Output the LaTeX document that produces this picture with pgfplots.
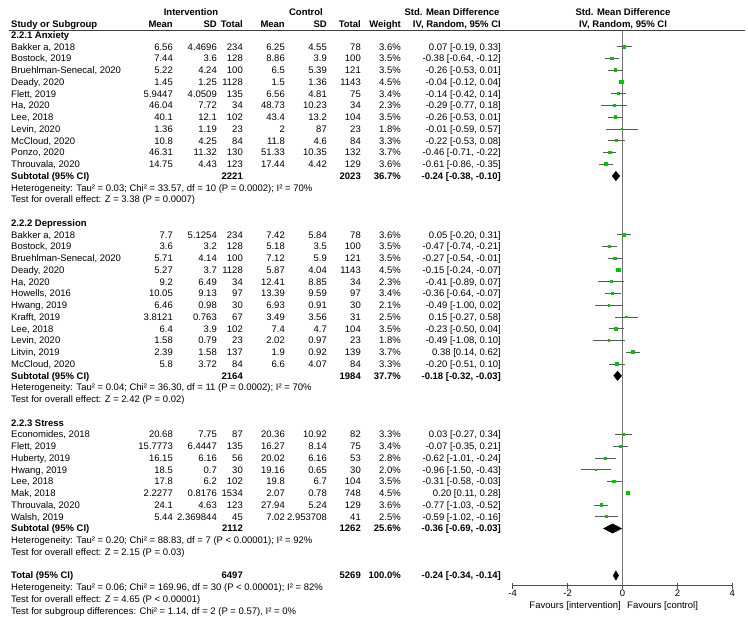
\documentclass[border=0pt]{standalone}
\usepackage{pgfplots}
\pgfplotsset{compat=1.18}
\usepackage{pgfplotstable}
\usepackage{fontspec}
\setmainfont{Liberation Sans}
\definecolor{sq}{RGB}{0,200,0}

% row = line index (0 = "2.2.1 Anxiety"), smd, CI, weight (%)
\pgfplotstableread{
row smd lo hi w
1 0.07 -0.19 0.33 3.6
2 -0.38 -0.64 -0.12 3.5
3 -0.26 -0.53 0.01 3.5
4 -0.04 -0.12 0.04 4.5
5 -0.14 -0.42 0.14 3.4
6 -0.29 -0.77 0.18 2.3
7 -0.26 -0.53 0.01 3.5
8 -0.01 -0.59 0.57 1.8
9 -0.22 -0.53 0.08 3.3
10 -0.46 -0.71 -0.22 3.7
11 -0.61 -0.86 -0.35 3.6
17 0.05 -0.20 0.31 3.6
18 -0.47 -0.74 -0.21 3.5
19 -0.27 -0.54 -0.01 3.5
20 -0.15 -0.24 -0.07 4.5
21 -0.41 -0.89 0.07 2.3
22 -0.36 -0.64 -0.07 3.4
23 -0.49 -1.00 0.02 2.1
24 0.15 -0.27 0.58 2.5
25 -0.23 -0.50 0.04 3.5
26 -0.49 -1.08 0.10 1.8
27 0.38 0.14 0.62 3.7
28 -0.20 -0.51 0.10 3.3
34 0.03 -0.27 0.34 3.3
35 -0.07 -0.35 0.21 3.4
36 -0.62 -1.01 -0.24 2.8
37 -0.96 -1.50 -0.43 2.0
38 -0.31 -0.58 -0.03 3.5
39 0.20 0.11 0.28 4.5
40 -0.77 -1.03 -0.52 3.6
41 -0.59 -1.02 -0.16 2.5
}\studies

\newcommand\ry[1]{35+11.75*(#1)}
\def\cur{0}
\newcommand\R[9]{\def\cur{#1}%
 \node[L] at (11,{\ry{#1}}) {#2};
 \node[Rt] at (173,{\ry{#1}}) {#3};
 \node[Rt] at (217,{\ry{#1}}) {#4};
 \node[Rt] at (243,{\ry{#1}}) {#5};
 \node[Rt] at (285,{\ry{#1}}) {#6};
 \node[Rt] at (327,{\ry{#1}}) {#7};
 \node[Rt] at (361,{\ry{#1}}) {#8};
 \node[Rt] at (401,{\ry{#1}}) {#9};}
\newcommand\C[1]{\node[Rt] at (501,{\ry{\cur}}) {#1};}
\newcommand\Sub[6]{%
 \node[L,B] at (11,{\ry{#1}}) {#2};
 \node[Rt,B] at (243,{\ry{#1}}) {#3};
 \node[Rt,B] at (361,{\ry{#1}}) {#4};
 \node[Rt,B] at (401,{\ry{#1}}) {#5};
 \node[Rt,B] at (501,{\ry{#1}}) {#6};}
\newcommand\Tx[2]{\node[L] at (11,{\ry{#1}}) {#2};}
\newcommand\Hd[2]{\node[L,B] at (11,{\ry{#1}}) {#2};}

\begin{document}
\begin{tikzpicture}
\useasboundingbox (0,0) rectangle (748pt,-625pt);
\begin{scope}[x=1pt,y=-1pt,
  every node/.style={inner sep=0pt, text height=6.8pt, text depth=0pt, font=\fontsize{9.5}{11}\selectfont},
  L/.style={anchor=west}, Rt/.style={anchor=east}, Cn/.style={anchor=center},
  B/.style={font=\fontsize{9.5}{11}\selectfont\bfseries}]
% headers
\node[Cn,B] at (191,12.5) {Intervention};
\node[Cn,B] at (306,12.5) {Control};
\node[Cn,B] at (452,12.5) {Std. Mean Difference};
\node[Cn,B] at (623,12.5) {Std. Mean Difference};
\node[L,B] at (11,24) {Study or Subgroup};
\node[Rt,B] at (173,24) {Mean};
\node[Rt,B] at (217,24) {SD};
\node[Rt,B] at (243,24) {Total};
\node[Rt,B] at (285,24) {Mean};
\node[Rt,B] at (327,24) {SD};
\node[Rt,B] at (361,24) {Total};
\node[Rt,B] at (401,24) {Weight};
\node[Rt,B] at (501,24) {IV, Random, 95\% CI};
\node[Cn,B] at (623,24) {IV, Random, 95\% CI};
\draw[line width=0.9pt, black!75] (9,30.5) -- (745,30.5);
% Anxiety
\Hd{0}{2.2.1 Anxiety}
\R{1}{Bakker a, 2018}{6.56}{4.4696}{234}{6.25}{4.55}{78}{3.6\%}\C{0.07 [-0.19, 0.33]}
\R{2}{Bostock, 2019}{7.44}{3.6}{128}{8.86}{3.9}{100}{3.5\%}\C{-0.38 [-0.64, -0.12]}
\R{3}{Bruehlman-Senecal, 2020}{5.22}{4.24}{100}{6.5}{5.39}{121}{3.5\%}\C{-0.26 [-0.53, 0.01]}
\R{4}{Deady, 2020}{1.45}{1.25}{1128}{1.5}{1.36}{1143}{4.5\%}\C{-0.04 [-0.12, 0.04]}
\R{5}{Flett, 2019}{5.9447}{4.0509}{135}{6.56}{4.81}{75}{3.4\%}\C{-0.14 [-0.42, 0.14]}
\R{6}{Ha, 2020}{46.04}{7.72}{34}{48.73}{10.23}{34}{2.3\%}\C{-0.29 [-0.77, 0.18]}
\R{7}{Lee, 2018}{40.1}{12.1}{102}{43.4}{13.2}{104}{3.5\%}\C{-0.26 [-0.53, 0.01]}
\R{8}{Levin, 2020}{1.36}{1.19}{23}{2}{87}{23}{1.8\%}\C{-0.01 [-0.59, 0.57]}
\R{9}{McCloud, 2020}{10.8}{4.25}{84}{11.8}{4.6}{84}{3.3\%}\C{-0.22 [-0.53, 0.08]}
\R{10}{Ponzo, 2020}{46.31}{11.32}{130}{51.33}{10.35}{132}{3.7\%}\C{-0.46 [-0.71, -0.22]}
\R{11}{Throuvala, 2020}{14.75}{4.43}{123}{17.44}{4.42}{129}{3.6\%}\C{-0.61 [-0.86, -0.35]}
\Sub{12}{Subtotal (95\% CI)}{2221}{2023}{36.7\%}{-0.24 [-0.38, -0.10]}
\Tx{13}{Heterogeneity: Tau² = 0.03; Chi² = 33.57, df = 10 (P = 0.0002); I² = 70\%}
\Tx{14}{Test for overall effect: Z = 3.38 (P = 0.0007)}
% Depression
\Hd{16}{2.2.2 Depression}
\R{17}{Bakker a, 2018}{7.7}{5.1254}{234}{7.42}{5.84}{78}{3.6\%}\C{0.05 [-0.20, 0.31]}
\R{18}{Bostock, 2019}{3.6}{3.2}{128}{5.18}{3.5}{100}{3.5\%}\C{-0.47 [-0.74, -0.21]}
\R{19}{Bruehlman-Senecal, 2020}{5.71}{4.14}{100}{7.12}{5.9}{121}{3.5\%}\C{-0.27 [-0.54, -0.01]}
\R{20}{Deady, 2020}{5.27}{3.7}{1128}{5.87}{4.04}{1143}{4.5\%}\C{-0.15 [-0.24, -0.07]}
\R{21}{Ha, 2020}{9.2}{6.49}{34}{12.41}{8.85}{34}{2.3\%}\C{-0.41 [-0.89, 0.07]}
\R{22}{Howells, 2016}{10.05}{9.13}{97}{13.39}{9.59}{97}{3.4\%}\C{-0.36 [-0.64, -0.07]}
\R{23}{Hwang, 2019}{6.46}{0.98}{30}{6.93}{0.91}{30}{2.1\%}\C{-0.49 [-1.00, 0.02]}
\R{24}{Krafft, 2019}{3.8121}{0.763}{67}{3.49}{3.56}{31}{2.5\%}\C{0.15 [-0.27, 0.58]}
\R{25}{Lee, 2018}{6.4}{3.9}{102}{7.4}{4.7}{104}{3.5\%}\C{-0.23 [-0.50, 0.04]}
\R{26}{Levin, 2020}{1.58}{0.79}{23}{2.02}{0.97}{23}{1.8\%}\C{-0.49 [-1.08, 0.10]}
\R{27}{Litvin, 2019}{2.39}{1.58}{137}{1.9}{0.92}{139}{3.7\%}\C{0.38 [0.14, 0.62]}
\R{28}{McCloud, 2020}{5.8}{3.72}{84}{6.6}{4.07}{84}{3.3\%}\C{-0.20 [-0.51, 0.10]}
\Sub{29}{Subtotal (95\% CI)}{2164}{1984}{37.7\%}{-0.18 [-0.32, -0.03]}
\Tx{30}{Heterogeneity: Tau² = 0.04; Chi² = 36.30, df = 11 (P = 0.0002); I² = 70\%}
\Tx{31}{Test for overall effect: Z = 2.42 (P = 0.02)}
% Stress
\Hd{33}{2.2.3 Stress}
\R{34}{Economides, 2018}{20.68}{7.75}{87}{20.36}{10.92}{82}{3.3\%}\C{0.03 [-0.27, 0.34]}
\R{35}{Flett, 2019}{15.7773}{6.4447}{135}{16.27}{8.14}{75}{3.4\%}\C{-0.07 [-0.35, 0.21]}
\R{36}{Huberty, 2019}{16.15}{6.16}{56}{20.02}{6.16}{53}{2.8\%}\C{-0.62 [-1.01, -0.24]}
\R{37}{Hwang, 2019}{18.5}{0.7}{30}{19.16}{0.65}{30}{2.0\%}\C{-0.96 [-1.50, -0.43]}
\R{38}{Lee, 2018}{17.8}{6.2}{102}{19.8}{6.7}{104}{3.5\%}\C{-0.31 [-0.58, -0.03]}
\R{39}{Mak, 2018}{2.2277}{0.8176}{1534}{2.07}{0.78}{748}{4.5\%}\C{0.20 [0.11, 0.28]}
\R{40}{Throuvala, 2020}{24.1}{4.63}{123}{27.94}{5.24}{129}{3.6\%}\C{-0.77 [-1.03, -0.52]}
\R{41}{Walsh, 2019}{5.44}{2.369844}{45}{7.02}{2.953708}{41}{2.5\%}\C{-0.59 [-1.02, -0.16]}
\Sub{42}{Subtotal (95\% CI)}{2112}{1262}{25.6\%}{-0.36 [-0.69, -0.03]}
\Tx{43}{Heterogeneity: Tau² = 0.20; Chi² = 88.83, df = 7 (P < 0.00001); I² = 92\%}
\Tx{44}{Test for overall effect: Z = 2.15 (P = 0.03)}
% Total
\Sub{46}{Total (95\% CI)}{6497}{5269}{100.0\%}{-0.24 [-0.34, -0.14]}
\Tx{47}{Heterogeneity: Tau² = 0.06; Chi² = 169.96, df = 30 (P < 0.00001); I² = 82\%}
\Tx{48}{Test for overall effect: Z = 4.65 (P < 0.00001)}
\Tx{49}{Test for subgroup differences: Chi² = 1.14, df = 2 (P = 0.57), I² = 0\%}
\node[Rt] at (621,605) {Favours [intervention]};
\node[L] at (627,605) {Favours [control]};
\end{scope}

\begin{axis}[
  at={(512.7pt,-30.5pt)}, anchor=north west,
  scale only axis, width=219.6pt, height=555pt,
  xmin=-4, xmax=4, ymin=-46.85, ymax=0.383,
  axis x line=bottom, axis y line=none,
  x axis line style={-, black!70, line width=0.9pt},
  xtick={-4,-2,0,2,4}, xticklabels={-4,-2,0,2,4},
  tick align=center, major tick length=6pt,
  xtick style={black!70, line width=0.9pt},
  xticklabel style={font=\fontsize{9.5}{11}\selectfont, inner sep=1pt},
  clip=false,
]
\addplot[black!55, line width=0.9pt] coordinates {(0,0.383) (0,-46.85)};
\addplot[only marks, mark=square*, mark options={draw=sq, fill=sq, line width=0pt},
  scatter, scatter/use mapped color={draw=sq, fill=sq},
  visualization depends on={0.36*\thisrow{w} \as \msz},
  scatter/@pre marker code/.append style={/tikz/mark size=\msz},
  error bars/.cd, x dir=both, x explicit, error mark=none,
  error bar style={black!65, line width=1pt}]
  table[x=smd, y expr=-\thisrow{row},
        x error plus expr=\thisrow{hi}-\thisrow{smd},
        x error minus expr=\thisrow{smd}-\thisrow{lo}] {\studies};
% pooled diamonds
\addplot[fill=black, draw=black] coordinates {(-0.38,-12) (-0.24,-11.6) (-0.10,-12) (-0.24,-12.4)} -- cycle;
\addplot[fill=black, draw=black] coordinates {(-0.32,-29) (-0.18,-28.6) (-0.03,-29) (-0.18,-29.4)} -- cycle;
\addplot[fill=black, draw=black] coordinates {(-0.69,-42) (-0.36,-41.6) (-0.03,-42) (-0.36,-42.4)} -- cycle;
\addplot[fill=black, draw=black] coordinates {(-0.34,-46) (-0.24,-45.6) (-0.14,-46) (-0.24,-46.4)} -- cycle;
\end{axis}
\end{tikzpicture}
\end{document}
